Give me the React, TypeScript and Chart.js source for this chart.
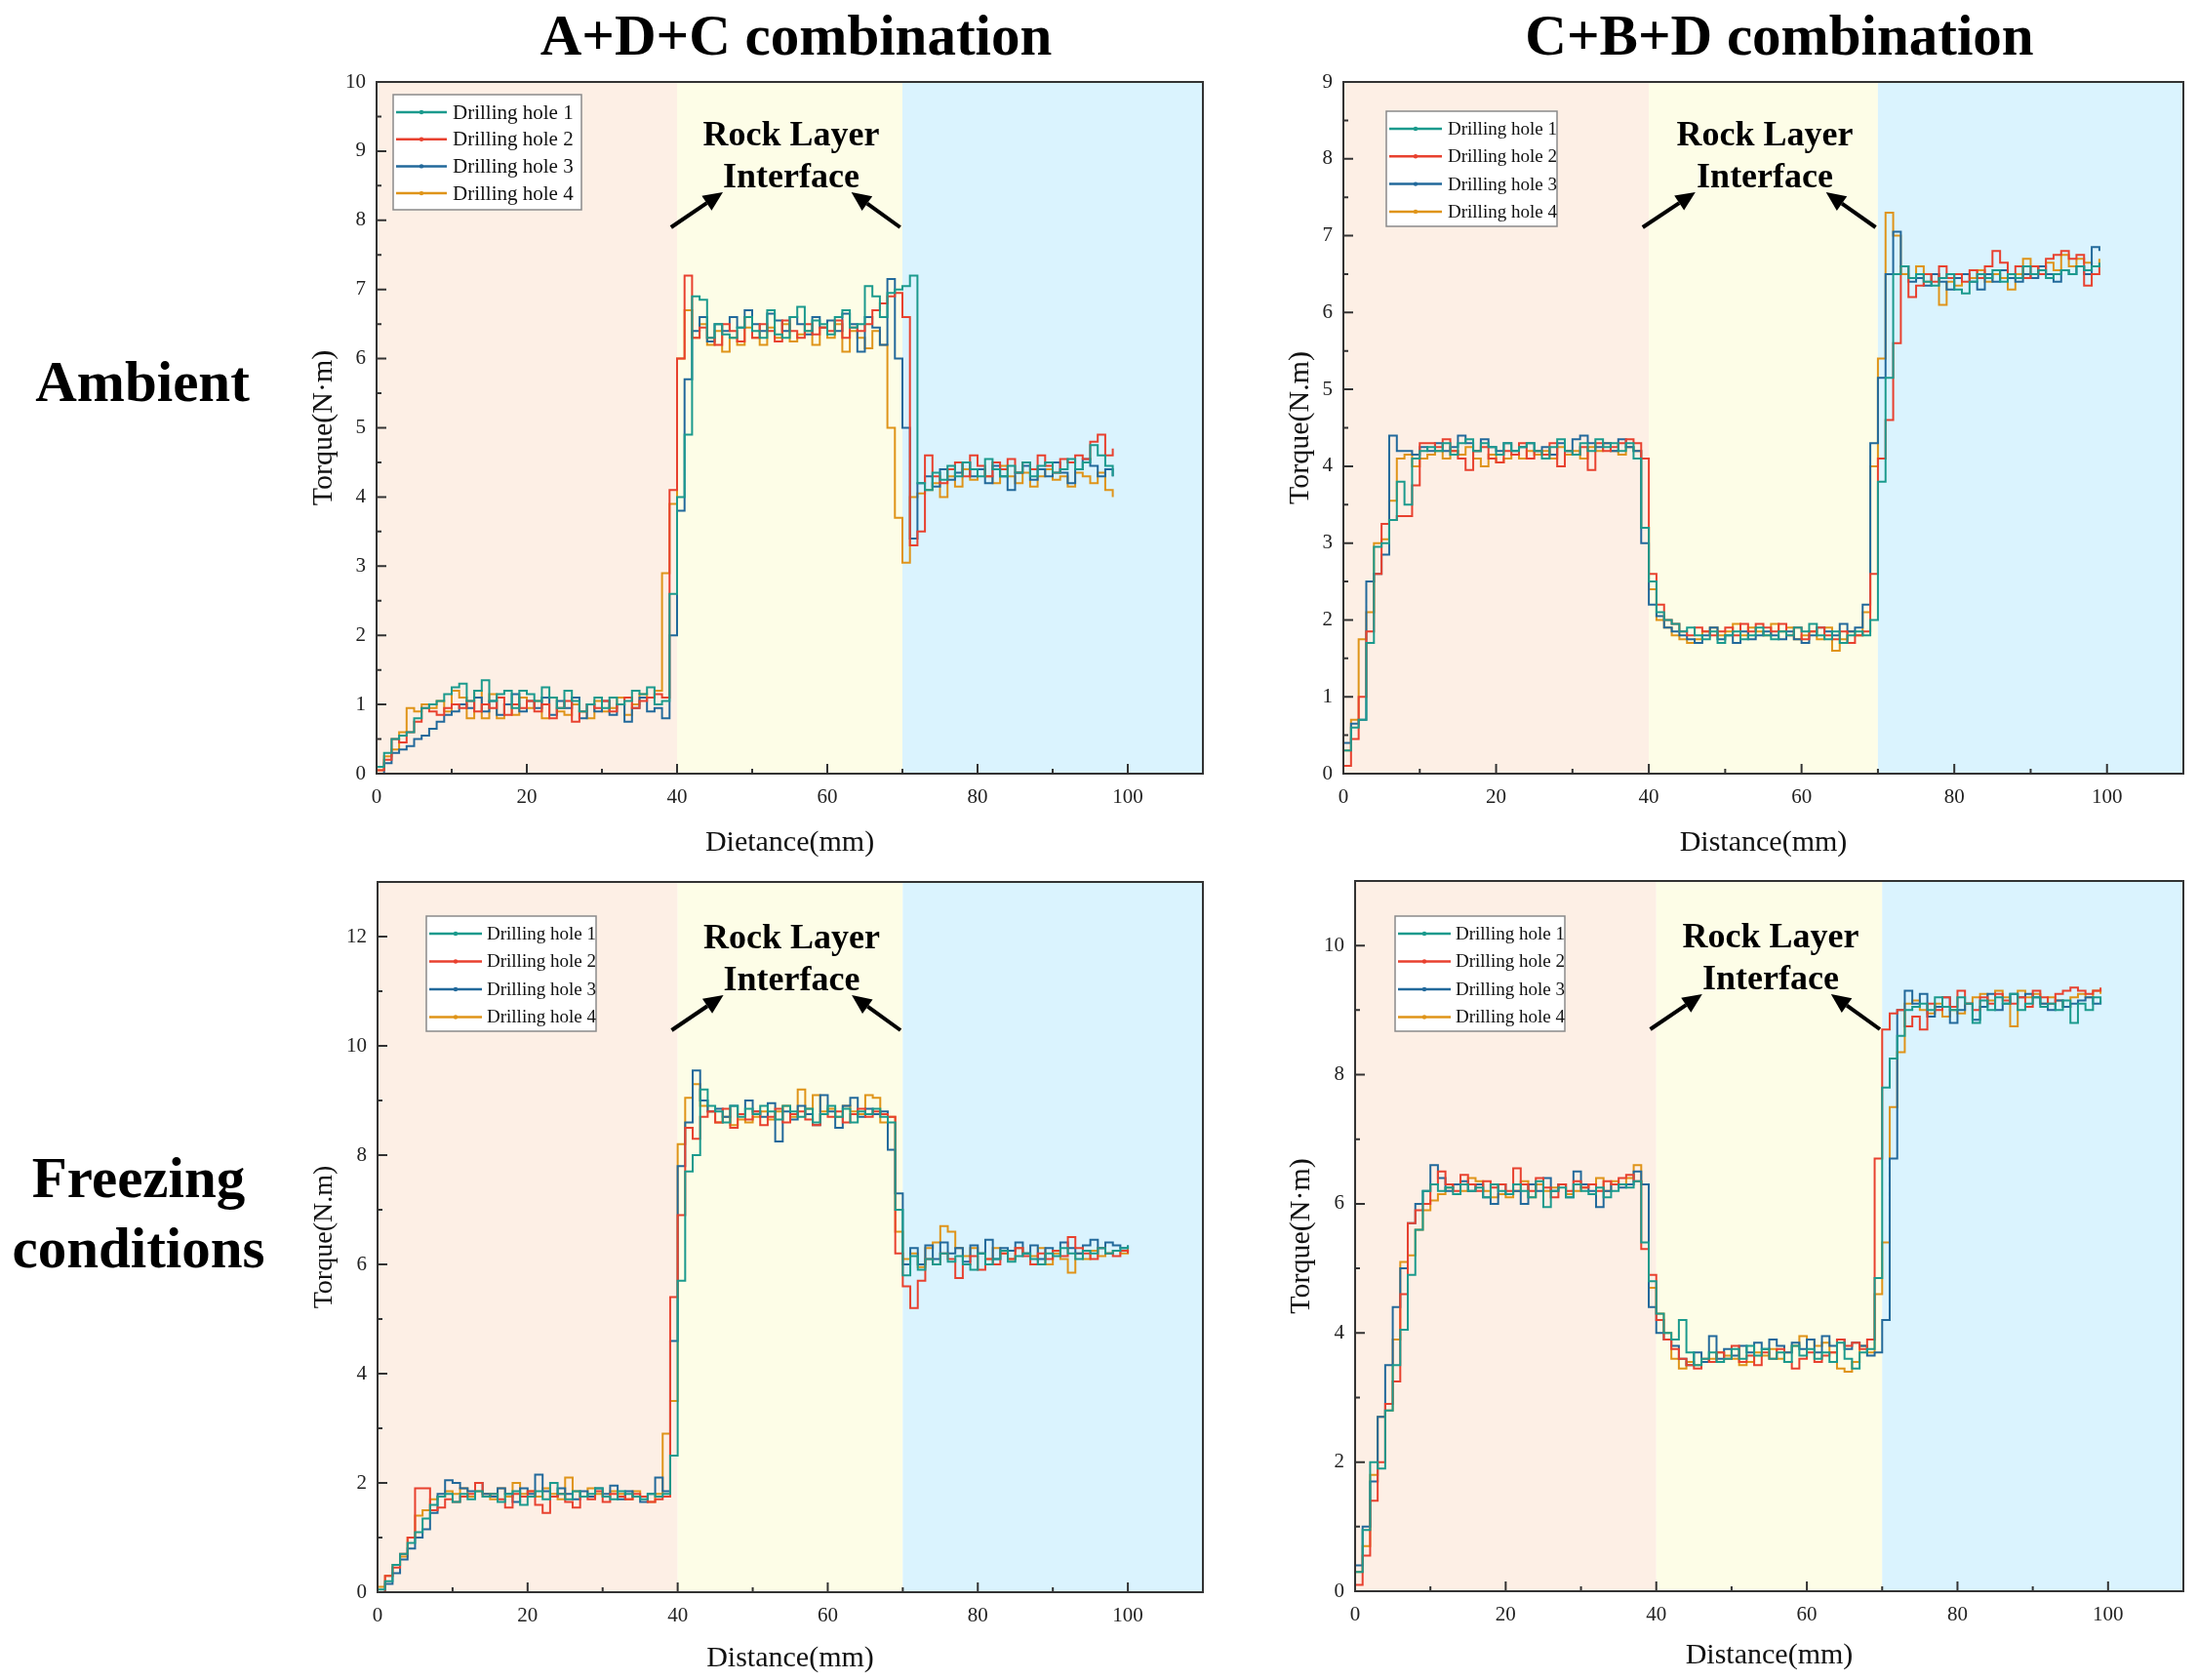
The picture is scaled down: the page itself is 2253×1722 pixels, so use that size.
import { useEffect, useRef } from "react";
import { Chart, registerables } from "chart.js";

Chart.register(...registerables);
Chart.defaults.font.family = '"Liberation Serif", "Times New Roman", serif';

// sampling positions along the hole (mm)
const DISTANCE = [
  0, 1, 2, 3, 4, 5, 6, 7, 8, 9, 10, 11, 12, 13, 14, 15, 16, 17, 18, 19,
  20, 21, 22, 23, 24, 25, 26, 27, 28, 29, 30, 31, 32, 33, 34, 35, 36, 37, 38, 39,
  40, 41, 42, 43, 44, 45, 46, 47, 48, 49, 50, 51, 52, 53, 54, 55, 56, 57, 58, 59,
  60, 61, 62, 63, 64, 65, 66, 67, 68, 69, 70, 71, 72, 73, 74, 75, 76, 77, 78, 79,
  80, 81, 82, 83, 84, 85, 86, 87, 88, 89, 90, 91, 92, 93, 94, 95, 96, 97, 98, 99, 100,
];

const HOLE_NAMES = ["Drilling hole 1", "Drilling hole 2", "Drilling hole 3", "Drilling hole 4"];
const HOLE_COLORS = ["#1b9a8d", "#e8412f", "#22699b", "#df9419"];

// rock layer boundaries (mm) and their fills
const LAYER_EDGES = [0, 40, 70, 110];
const LAYER_COLORS = ["#fdefe5", "#fdfde7", "#daf3fe"];

// A+D+C, ambient
const ADC_AMB_1 = [
  0.1, 0.3, 0.5, 0.55, 0.6, 0.8, 0.95, 1.0, 1.05, 1.15,
  1.25, 1.3, 1.05, 1.2, 1.35, 1.05, 1.15, 1.2, 0.95, 1.2,
  1.15, 1.05, 1.25, 1.1, 0.95, 1.2, 1.05, 0.9, 1.0, 1.1,
  0.95, 1.1, 1.0, 1.05, 1.2, 1.15, 1.25, 1.0, 1.05, 2.6,
  4.0, 4.9, 6.9, 6.85, 6.3, 6.5, 6.35, 6.3, 6.45, 6.6,
  6.4, 6.3, 6.7, 6.35, 6.3, 6.6, 6.75, 6.4, 6.55, 6.5,
  6.35, 6.6, 6.7, 6.45, 6.5, 7.05, 6.9, 6.6, 6.95, 7.0,
  7.05, 7.2, 4.2, 4.1, 4.35, 4.25, 4.45, 4.3, 4.5, 4.4,
  4.3, 4.55, 4.4, 4.3, 4.45, 4.35, 4.5, 4.3, 4.45, 4.5,
  4.35, 4.4, 4.55, 4.4, 4.5, 4.75, 4.6, 4.45, 4.3,
];
const ADC_AMB_2 = [
  0.05, 0.2, 0.5, 0.45, 0.6, 0.75, 0.95, 0.9, 0.85, 0.95,
  1.0, 0.95, 1.05, 0.9, 1.0, 0.95, 1.1, 0.85, 1.0, 0.95,
  1.05, 0.9, 1.0, 0.8, 0.95, 1.05, 0.75, 0.9, 1.0, 0.95,
  1.05, 0.9, 1.0, 1.1, 0.95, 1.05, 1.1, 1.15, 1.1, 4.1,
  6.0, 7.2, 6.3, 6.45, 6.3, 6.2, 6.5, 6.4, 6.25, 6.6,
  6.3, 6.5, 6.4, 6.25, 6.55, 6.4, 6.3, 6.5, 6.35, 6.45,
  6.4, 6.55, 6.3, 6.45, 6.4, 6.5, 6.7, 6.8, 6.9, 6.95,
  6.6, 3.3, 3.5, 4.6, 4.3, 4.2, 4.4, 4.5, 4.3, 4.6,
  4.45, 4.3, 4.5, 4.4, 4.55, 4.35, 4.5, 4.4, 4.6, 4.45,
  4.35, 4.55, 4.5, 4.6, 4.55, 4.8, 4.9, 4.6, 4.7,
];
const ADC_AMB_3 = [
  0, 0.15, 0.3, 0.35, 0.4, 0.5, 0.55, 0.65, 0.75, 0.85,
  0.9, 1.0, 0.95, 1.1, 0.9, 1.05, 0.85, 1.0, 1.15, 0.9,
  1.05, 0.95, 1.1, 0.85, 1.05, 0.95, 1.1, 0.8, 1.0, 0.9,
  1.05, 0.85, 1.0, 0.75, 0.95, 1.1, 0.9, 0.95, 0.8, 2.0,
  3.8, 5.7, 6.4, 6.6, 6.25, 6.5, 6.4, 6.6, 6.45, 6.7,
  6.5, 6.4, 6.65, 6.55, 6.4, 6.6, 6.5, 6.35, 6.6, 6.45,
  6.55, 6.4, 6.65, 6.5, 6.1, 6.6, 6.45, 6.2, 7.15, 6.0,
  5.0, 3.4, 4.2, 4.3, 4.15, 4.4, 4.25, 4.35, 4.5, 4.3,
  4.4, 4.2, 4.45, 4.3, 4.1, 4.35, 4.45, 4.25, 4.4, 4.3,
  4.5, 4.35, 4.2, 4.4, 4.55, 4.45, 4.3, 4.4, 4.3,
];
const ADC_AMB_4 = [
  0.05, 0.25, 0.35, 0.6, 0.95, 0.9, 1.0, 0.95, 1.05, 0.9,
  1.2, 1.1, 0.8, 1.2, 0.8, 1.15, 0.8, 1.0, 0.85, 1.1,
  0.95, 1.05, 0.8, 1.1, 0.9, 0.85, 1.0, 0.9, 0.8, 1.05,
  0.9, 0.95, 1.1, 0.85, 1.0, 1.15, 1.1, 1.2, 2.9, 3.9,
  6.0, 6.7, 6.3, 6.5, 6.2, 6.4, 6.1, 6.3, 6.2, 6.45,
  6.3, 6.2, 6.45, 6.3, 6.5, 6.25, 6.35, 6.4, 6.2, 6.45,
  6.3, 6.5, 6.1, 6.4, 6.3, 6.15, 6.4, 6.2, 5.0, 3.7,
  3.05, 4.0, 4.05, 4.1, 4.2, 4.0, 4.3, 4.15, 4.4, 4.25,
  4.4, 4.3, 4.2, 4.45, 4.3, 4.2, 4.35, 4.15, 4.3, 4.4,
  4.25, 4.3, 4.15, 4.35, 4.3, 4.2, 4.35, 4.1, 4.0,
];

// C+B+D, ambient
const CBD_AMB_1 = [
  0.3, 0.6, 0.7, 1.7, 2.95, 3.0, 3.3, 3.8, 3.5, 4.1,
  4.2, 4.25, 4.2, 4.3, 4.15, 4.3, 4.35, 4.2, 4.3, 4.25,
  4.15, 4.3, 4.2, 4.25, 4.3, 4.2, 4.1, 4.25, 4.35, 4.2,
  4.15, 4.3, 4.2, 4.35, 4.25, 4.3, 4.2, 4.3, 4.1, 3.2,
  2.5, 2.1, 2.0, 1.95, 1.85, 1.9, 1.8, 1.75, 1.85, 1.7,
  1.8, 1.85, 1.75, 1.8, 1.9, 1.8, 1.75, 1.85, 1.8, 1.9,
  1.85, 1.95, 1.8, 1.75, 1.85, 1.7, 1.8, 1.85, 1.8, 2.0,
  3.8, 5.15, 6.5, 6.6, 6.45, 6.5, 6.4, 6.35, 6.45, 6.5,
  6.3, 6.25, 6.4, 6.5, 6.45, 6.55, 6.4, 6.5, 6.45, 6.6,
  6.5, 6.55, 6.45, 6.5, 6.55, 6.5, 6.6, 6.55, 6.6, 6.65,
];
const CBD_AMB_2 = [
  0.1, 0.45, 1.0, 1.85, 2.6, 3.25, 3.3, 3.35, 3.35, 3.75,
  4.3, 4.3, 4.25, 4.35, 4.2, 4.1, 3.95, 4.2, 4.25, 4.1,
  4.05, 4.2, 4.15, 4.3, 4.1, 4.2, 4.15, 4.3, 4.0, 4.2,
  4.15, 4.25, 3.95, 4.3, 4.2, 4.25, 4.3, 4.35, 4.3, 4.1,
  2.6, 2.2, 2.0, 1.95, 1.85, 1.8, 1.9, 1.85, 1.8, 1.85,
  1.9, 1.8, 1.95, 1.85, 1.95, 1.9, 1.85, 1.95, 1.8, 1.9,
  1.75, 1.85, 1.9, 1.8, 1.75, 1.85, 1.7, 1.8, 1.85, 2.6,
  4.1, 4.6, 5.6, 6.6, 6.2, 6.35, 6.5, 6.4, 6.6, 6.45,
  6.5, 6.4, 6.55, 6.45, 6.6, 6.8, 6.65, 6.5, 6.6, 6.45,
  6.6, 6.5, 6.7, 6.75, 6.8, 6.7, 6.75, 6.35, 6.5, 6.6,
];
const CBD_AMB_3 = [
  0.4, 0.65, 0.7, 2.5, 2.6, 2.85, 4.4, 4.2, 4.2, 4.15,
  4.25, 4.2, 4.3, 4.2, 4.25, 4.4, 4.3, 4.2, 4.35, 4.25,
  4.2, 4.3, 4.2, 4.25, 4.3, 4.2, 4.25, 4.15, 4.3, 4.2,
  4.35, 4.4, 4.3, 4.25, 4.3, 4.2, 4.35, 4.25, 4.2, 3.0,
  2.2, 2.05, 1.9, 1.85, 1.8, 1.75, 1.7, 1.8, 1.9, 1.75,
  1.8, 1.7, 1.85, 1.75, 1.8, 1.85, 1.8, 1.75, 1.85, 1.75,
  1.7, 1.8, 1.9, 1.85, 1.8, 1.95, 1.85, 1.9, 2.2, 4.3,
  5.15, 6.5, 7.05, 6.6, 6.4, 6.45, 6.35, 6.5, 6.4, 6.3,
  6.45, 6.5, 6.4, 6.3, 6.5, 6.4, 6.55, 6.45, 6.4, 6.5,
  6.45, 6.6, 6.5, 6.4, 6.55, 6.5, 6.6, 6.5, 6.85, 6.8,
];
const CBD_AMB_4 = [
  0.3, 0.7, 1.75, 2.1, 3.0, 3.05, 3.55, 4.1, 4.15, 4.0,
  4.1, 4.15, 4.2, 4.1, 4.2, 4.15, 4.25, 4.1, 4.0, 4.15,
  4.05, 4.1, 4.15, 4.1, 4.2, 4.15, 4.2, 4.1, 4.25, 4.15,
  4.2, 4.1, 4.25, 4.2, 4.3, 4.2, 4.15, 4.25, 4.2, 3.2,
  2.4, 2.0, 1.9, 1.8, 1.75, 1.7, 1.75, 1.85, 1.9, 1.8,
  1.85, 1.95, 1.8, 1.9, 1.85, 1.8, 1.95, 1.85, 1.9, 1.75,
  1.8, 1.85, 1.75, 1.9, 1.6, 1.75, 1.85, 1.8, 2.1, 4.0,
  5.4, 7.3, 7.0, 6.5, 6.45, 6.6, 6.4, 6.5, 6.1, 6.4,
  6.35, 6.5, 6.45, 6.55, 6.4, 6.5, 6.45, 6.3, 6.5, 6.7,
  6.6, 6.5, 6.65, 6.55, 6.75, 6.6, 6.7, 6.65, 6.6, 6.7,
];

// A+D+C, freezing
const ADC_FRZ_1 = [
  0.05, 0.2, 0.5, 0.7, 0.9, 1.1, 1.35, 1.6, 1.75, 1.8,
  1.65, 1.8, 1.7, 1.85, 1.75, 1.8, 1.65, 1.8, 1.85, 1.6,
  1.75, 1.85, 1.7, 2.0, 1.8, 1.7, 1.85, 1.75, 1.8, 1.9,
  1.75, 1.7, 1.85, 1.8, 1.75, 1.7, 1.8, 1.75, 1.8, 2.5,
  5.7, 7.7, 8.0, 9.2, 8.9, 8.8, 8.6, 8.9, 8.7, 8.85,
  8.75, 8.9, 8.8, 8.65, 8.9, 8.8, 8.7, 8.85, 8.6, 8.75,
  8.9, 8.7, 8.85, 8.6, 8.8, 8.75, 8.85, 8.7, 8.6, 7.0,
  5.8, 6.15, 5.9, 6.1, 6.0, 6.2, 6.05, 6.15, 6.0, 5.9,
  6.2, 6.0, 6.1, 6.25, 6.05, 6.15, 6.2, 6.1, 6.0, 6.2,
  6.15, 6.3, 6.2, 6.1, 6.25, 6.2, 6.3, 6.2, 6.25, 6.3, 6.35,
];
const ADC_FRZ_2 = [
  0, 0.3, 0.45, 0.7, 1.0, 1.9, 1.9, 1.5, 1.55, 1.7,
  1.65, 1.75, 1.8, 2.0, 1.75, 1.8, 1.7, 1.55, 1.8, 1.75,
  1.85, 1.6, 1.45, 1.75, 1.8, 1.65, 1.55, 1.75, 1.7, 1.85,
  1.65, 1.8, 1.75, 1.7, 1.8, 1.75, 1.65, 1.7, 1.75, 5.4,
  6.9, 8.5, 8.3, 8.7, 8.8, 8.6, 8.85, 8.5, 8.75, 8.65,
  8.8, 8.55, 8.7, 8.85, 8.6, 8.75, 8.8, 8.65, 8.55, 8.75,
  8.7, 8.8, 8.6, 8.75, 8.85, 8.7, 8.8, 8.75, 8.7, 6.2,
  5.6, 5.2, 5.7, 6.1, 6.0, 6.2, 6.1, 5.75, 6.0, 6.15,
  5.9, 6.1, 6.0, 6.2, 6.1, 6.3, 6.15, 6.0, 6.2, 6.1,
  6.25, 6.15, 6.5, 6.3, 6.2, 6.1, 6.3, 6.2, 6.15, 6.25, 6.2,
];
const ADC_FRZ_3 = [
  0, 0.15, 0.35, 0.6, 0.8, 1.0, 1.15, 1.45, 1.8, 2.05,
  2.0, 1.9, 1.85, 2.0, 1.8, 1.75, 1.9, 1.8, 1.65, 1.9,
  1.8, 2.15, 1.85, 1.75, 1.9, 1.8, 1.7, 1.85, 1.75, 1.9,
  1.8, 1.95, 1.7, 1.85, 1.75, 1.65, 1.8, 2.1, 1.85, 4.6,
  7.8, 8.6, 9.55, 9.0, 8.8, 8.85, 8.7, 8.9, 8.75, 9.0,
  8.8, 8.7, 8.95, 8.25, 8.8, 8.65, 8.9, 8.75, 8.55, 9.1,
  8.8, 8.5, 8.9, 9.05, 8.7, 8.85, 8.75, 8.8, 8.1, 7.3,
  6.0, 6.3, 6.0, 6.35, 6.1, 6.4, 6.2, 6.3, 6.05, 6.35,
  6.2, 6.45, 6.1, 6.3, 6.25, 6.4, 6.2, 6.35, 6.1, 6.3,
  6.25, 6.4, 6.3, 6.2, 6.35, 6.45, 6.3, 6.4, 6.35, 6.3, 6.35,
];
const ADC_FRZ_4 = [
  0.1, 0.3, 0.5, 0.65, 1.0, 1.4, 1.5, 1.7, 1.75, 1.85,
  1.8, 1.9, 1.75, 1.85, 1.8, 1.7, 1.9, 1.75, 2.0, 1.8,
  1.85, 1.75, 1.9, 1.8, 1.7, 2.1, 1.85, 1.75, 1.9, 1.8,
  1.75, 1.85, 1.8, 1.7, 1.85, 1.75, 1.65, 1.8, 2.9, 3.5,
  8.2, 9.05, 9.3, 8.9, 8.8, 8.6, 8.7, 8.55, 8.65, 8.6,
  8.7, 8.8, 8.65, 8.8, 8.9, 8.7, 9.2, 8.85, 9.1, 8.8,
  8.85, 8.7, 8.9, 8.8, 8.75, 9.1, 9.05, 8.6, 8.7, 6.6,
  6.1, 6.2, 5.95, 6.3, 6.4, 6.7, 6.6, 6.3, 6.15, 6.3,
  6.2, 6.1, 6.3, 6.2, 6.1, 6.3, 6.2, 6.15, 6.3, 6.0,
  6.2, 6.1, 5.85, 6.2, 6.1, 6.25, 6.15, 6.2, 6.25, 6.2, 6.3,
];

// C+B+D, freezing
const CBD_FRZ_1 = [
  0.3, 0.95, 2.0, 1.9, 2.8, 3.5, 4.05, 4.9, 5.6, 6.2,
  6.3, 6.2, 6.25, 6.15, 6.3, 6.2, 6.25, 6.1, 6.3, 6.2,
  6.15, 6.3, 6.2, 6.1, 6.35, 5.95, 6.2, 6.25, 6.1, 6.3,
  6.2, 6.15, 6.25, 6.1, 6.2, 6.3, 6.25, 6.35, 5.4, 4.8,
  4.3, 4.0, 3.9, 4.2, 3.7, 3.5, 3.6, 3.7, 3.55, 3.6,
  3.75, 3.6, 3.8, 3.65, 3.75, 3.6, 3.7, 3.55, 3.8, 3.65,
  3.75, 3.6, 3.7, 3.55, 3.85, 3.6, 3.45, 3.7, 3.75, 4.85,
  7.8, 8.25, 8.6, 9.0, 9.05, 9.1, 9.0, 9.2, 9.05, 9.0,
  9.2, 9.1, 8.8, 9.15, 9.0, 9.2, 9.1, 9.25, 9.0, 9.1,
  9.2, 9.05, 9.1, 9.0, 9.15, 8.8, 9.1, 9.0, 9.2, 9.1,
];
const CBD_FRZ_2 = [
  0.1, 0.55, 1.4, 2.0, 2.9, 3.25, 4.6, 5.7, 5.9, 6.0,
  6.3, 6.5, 6.3, 6.2, 6.45, 6.3, 6.2, 6.35, 6.25, 6.3,
  6.2, 6.55, 6.3, 6.2, 6.4, 6.25, 6.1, 6.3, 6.2, 6.35,
  6.25, 6.3, 6.2, 6.35, 6.3, 6.4, 6.45, 6.35, 5.3, 4.9,
  4.2, 3.9, 3.75, 3.6, 3.5, 3.45, 3.6, 3.55, 3.7, 3.6,
  3.8, 3.55, 3.65, 3.5, 3.7, 3.6, 3.75, 3.55, 3.45, 3.6,
  3.7, 3.55, 3.65, 3.7, 3.9, 3.8, 3.85, 3.75, 3.9, 6.7,
  8.7, 8.95, 9.0, 8.75, 8.9, 8.7, 9.1, 9.0, 9.2, 9.05,
  9.3, 9.1, 9.0, 9.2, 9.1, 9.25, 9.15, 9.1, 9.2, 9.05,
  9.3, 9.2, 9.1, 9.25, 9.3, 9.35, 9.3, 9.25, 9.3, 9.35,
];
const CBD_FRZ_3 = [
  0.4, 1.0, 1.7, 2.7, 3.5, 4.4, 5.0, 5.7, 6.0, 6.2,
  6.6, 6.4, 6.2, 6.3, 6.35, 6.2, 6.3, 6.1, 6.0, 6.3,
  6.15, 6.2, 6.0, 6.3, 6.2, 6.4, 6.2, 6.3, 6.1, 6.5,
  6.3, 6.2, 5.95, 6.2, 6.3, 6.25, 6.3, 6.5, 6.3, 4.4,
  4.0, 3.9, 3.8, 3.6, 3.5, 3.7, 3.55, 3.95, 3.6, 3.75,
  3.65, 3.8, 3.7, 3.85, 3.75, 3.9, 3.8, 3.7, 3.85, 3.75,
  3.9, 3.7, 3.95, 3.8, 3.9, 3.75, 3.85, 3.8, 3.65, 3.7,
  4.2, 6.7, 9.0, 9.3, 9.1, 9.25, 8.9, 9.05, 9.2, 8.8,
  9.0, 9.1, 8.85, 9.05, 9.25, 9.0, 9.1, 9.25, 9.2, 9.25,
  9.2, 9.1, 9.0, 9.15, 9.05, 9.1, 9.15, 9.2, 9.1, 9.15,
];
const CBD_FRZ_4 = [
  0.3, 0.7, 1.8, 2.7, 2.8, 3.9, 5.1, 5.2, 5.6, 5.9,
  6.05, 6.15, 6.25, 6.3, 6.2, 6.4, 6.35, 6.2, 6.1, 6.15,
  6.1, 6.2, 6.35, 6.1, 6.3, 6.2, 6.25, 6.3, 6.15, 6.2,
  6.25, 6.3, 6.4, 6.2, 6.35, 6.3, 6.4, 6.6, 6.3, 4.7,
  4.3, 4.0, 3.6, 3.45, 3.55, 3.5, 3.55, 3.6, 3.7, 3.65,
  3.6, 3.5, 3.55, 3.7, 3.65, 3.75, 3.6, 3.7, 3.8, 3.95,
  3.9, 3.8, 3.85, 3.7, 3.45, 3.4, 3.55, 3.8, 3.7, 4.6,
  5.4, 7.5, 8.35, 9.1, 9.15, 9.0, 8.95, 9.1, 8.9, 9.0,
  8.95, 9.1, 9.2, 9.25, 9.15, 9.3, 9.2, 8.75, 9.3, 9.2,
  9.25, 9.1, 9.2, 9.15, 9.05, 9.2, 9.25, 9.2, 9.3, 9.25,
];

type Legend = { dx: number; dy: number; w: number; h: number; font: number; row: number; first: number; line: number; gap: number };
type PanelCfg = {
  series: number[][];
  yMax: number;
  yStep: number;
  yTitle: string;
  xTitle: string;
  area: { left: number; top: number; right: number; bottom: number };
  yTitleGap: number;
  yTitleSize: number;
  xTitleGap: number;
  legend: Legend;
  noteTop: number;
};

const PANELS: PanelCfg[] = [
  {
    series: [ADC_AMB_1, ADC_AMB_2, ADC_AMB_3, ADC_AMB_4],
    yMax: 10, yStep: 1, yTitle: "Torque(N·m)", xTitle: "Dietance(mm)",
    area: { left: 386, top: 84, right: 1233, bottom: 793 },
    yTitleGap: 54, yTitleSize: 30, xTitleGap: 71,
    legend: { dx: 17, dy: 13, w: 193, h: 118, font: 21, row: 27.7, first: 18, line: 52, gap: 6 },
    noteTop: 0,
  },
  {
    series: [CBD_AMB_1, CBD_AMB_2, CBD_AMB_3, CBD_AMB_4],
    yMax: 9, yStep: 1, yTitle: "Torque(N.m)", xTitle: "Distance(mm)",
    area: { left: 1377, top: 84, right: 2238, bottom: 793 },
    yTitleGap: 44, yTitleSize: 30, xTitleGap: 71,
    legend: { dx: 44, dy: 30, w: 175, h: 118, font: 19, row: 28.3, first: 18, line: 54, gap: 6 },
    noteTop: 0,
  },
  {
    series: [ADC_FRZ_1, ADC_FRZ_2, ADC_FRZ_3, ADC_FRZ_4],
    yMax: 13, yStep: 2, yTitle: "Torque(N.m)", xTitle: "Distance(mm)",
    area: { left: 387, top: 904, right: 1233, bottom: 1632 },
    yTitleGap: 54, yTitleSize: 28, xTitleGap: 68,
    legend: { dx: 50, dy: 35, w: 174, h: 118, font: 19, row: 28.5, first: 18, line: 54, gap: 5 },
    noteTop: 3,
  },
  {
    series: [CBD_FRZ_1, CBD_FRZ_2, CBD_FRZ_3, CBD_FRZ_4],
    yMax: 11, yStep: 2, yTitle: "Torque(N·m)", xTitle: "Distance(mm)",
    area: { left: 1389, top: 903, right: 2238, bottom: 1631 },
    yTitleGap: 55, yTitleSize: 30, xTitleGap: 66,
    legend: { dx: 41, dy: 36, w: 174, h: 118, font: 19, row: 28.5, first: 18, line: 54, gap: 5 },
    noteTop: 3,
  },
];

const Y_AXIS_W = 100;
const X_AXIS_H = 100;
// top padding above the plot; larger than half a tick label so chart.js keeps it as is
const PAD_TOP = 26;
const PAD_RIGHT = 20;

function drawArrow(ctx: CanvasRenderingContext2D, x0: number, y0: number, x1: number, y1: number) {
  const ang = Math.atan2(y1 - y0, x1 - x0);
  const head = 20;
  const half = 9;
  const bx = x1 - head * Math.cos(ang);
  const by = y1 - head * Math.sin(ang);
  ctx.beginPath();
  ctx.moveTo(x0, y0);
  ctx.lineTo(bx, by);
  ctx.lineWidth = 4;
  ctx.strokeStyle = "#000";
  ctx.stroke();
  ctx.beginPath();
  ctx.moveTo(x1, y1);
  ctx.lineTo(bx + half * Math.sin(ang), by - half * Math.cos(ang));
  ctx.lineTo(bx - half * Math.sin(ang), by + half * Math.cos(ang));
  ctx.closePath();
  ctx.fillStyle = "#000";
  ctx.fill();
}

function Panel({ cfg }: { cfg: PanelCfg }) {
  const canvasRef = useRef<HTMLCanvasElement>(null);
  const { area } = cfg;
  const width = area.right - area.left + Y_AXIS_W + PAD_RIGHT;
  const height = area.bottom - area.top + X_AXIS_H + PAD_TOP;

  useEffect(() => {
    if (!canvasRef.current) return;

    const decor = {
      id: "decor",
      beforeDatasetsDraw(chart: Chart) {
        const { ctx, chartArea: a } = chart;
        const x = chart.scales.x;
        ctx.save();
        LAYER_COLORS.forEach((color, i) => {
          const x0 = x.getPixelForValue(LAYER_EDGES[i]);
          const x1 = x.getPixelForValue(LAYER_EDGES[i + 1]);
          ctx.fillStyle = color;
          ctx.fillRect(x0, a.top, x1 - x0, a.bottom - a.top);
        });
        ctx.restore();
      },
      afterDatasetsDraw(chart: Chart) {
        const { ctx, chartArea: a } = chart;
        const x = chart.scales.x;
        const y = chart.scales.y;
        ctx.save();

        // inward major + minor ticks
        ctx.strokeStyle = "#333";
        ctx.lineWidth = 2;
        ctx.beginPath();
        const xt = x.ticks.map((t) => t.value);
        const xs = xt[1] - xt[0];
        xt.forEach((v) => {
          const p = x.getPixelForValue(v);
          ctx.moveTo(p, a.bottom);
          ctx.lineTo(p, a.bottom - 10);
          if (v + xs / 2 < x.max) {
            const q = x.getPixelForValue(v + xs / 2);
            ctx.moveTo(q, a.bottom);
            ctx.lineTo(q, a.bottom - 5);
          }
        });
        const yt = y.ticks.map((t) => t.value);
        const ys = yt[1] - yt[0];
        yt.forEach((v) => {
          const p = y.getPixelForValue(v);
          ctx.moveTo(a.left, p);
          ctx.lineTo(a.left + 10, p);
          if (v + ys / 2 < y.max) {
            const q = y.getPixelForValue(v + ys / 2);
            ctx.moveTo(a.left, q);
            ctx.lineTo(a.left + 5, q);
          }
        });
        ctx.stroke();

        // frame
        ctx.lineWidth = 2;
        ctx.strokeRect(a.left, a.top, a.right - a.left, a.bottom - a.top);

        // rock layer interface note
        const t = a.top + cfg.noteTop;
        ctx.fillStyle = "#000";
        ctx.font = 'bold 36px "Liberation Serif", serif';
        ctx.textAlign = "center";
        ctx.textBaseline = "alphabetic";
        const cx = x.getPixelForValue(55.2);
        ctx.fillText("Rock Layer", cx, t + 65);
        ctx.fillText("Interface", cx, t + 108);
        drawArrow(ctx, x.getPixelForValue(39.2), t + 149, x.getPixelForValue(46.1), t + 113);
        drawArrow(ctx, x.getPixelForValue(69.7), t + 149, x.getPixelForValue(63.2), t + 113);

        // legend
        const lg = cfg.legend;
        const bx = a.left + lg.dx;
        const by = a.top + lg.dy;
        ctx.fillStyle = "#fff";
        ctx.fillRect(bx, by, lg.w, lg.h);
        ctx.strokeStyle = "#8a8a8a";
        ctx.lineWidth = 1.5;
        ctx.strokeRect(bx, by, lg.w, lg.h);
        ctx.font = `${lg.font}px "Liberation Serif", serif`;
        ctx.textAlign = "left";
        ctx.textBaseline = "middle";
        chart.data.datasets.forEach((ds, i) => {
          const ry = by + lg.first + i * lg.row;
          const color = ds.borderColor as string;
          ctx.strokeStyle = color;
          ctx.lineWidth = 2.5;
          ctx.beginPath();
          ctx.moveTo(bx + 3, ry);
          ctx.lineTo(bx + 3 + lg.line, ry);
          ctx.stroke();
          ctx.fillStyle = color;
          ctx.beginPath();
          ctx.arc(bx + 3 + lg.line / 2, ry, 2.2, 0, Math.PI * 2);
          ctx.fill();
          ctx.fillStyle = "#111";
          ctx.fillText(ds.label as string, bx + 3 + lg.line + lg.gap, ry + 1);
        });
        ctx.restore();
      },
    };

    const chart = new Chart(canvasRef.current, {
      type: "line",
      data: {
        datasets: cfg.series.map((vals, i) => ({
          label: HOLE_NAMES[i],
          data: vals.map((v, j) => ({ x: DISTANCE[j], y: v })),
          borderColor: HOLE_COLORS[i],
          backgroundColor: HOLE_COLORS[i],
          borderWidth: 2,
          pointRadius: 0,
          stepped: true,
          fill: false,
        })),
      },
      options: {
        animation: false,
        responsive: true,
        maintainAspectRatio: false,
        events: [],
        layout: { padding: { left: 0, top: PAD_TOP, right: PAD_RIGHT, bottom: 0 } },
        plugins: { legend: { display: false }, tooltip: { enabled: false } },
        scales: {
          x: {
            type: "linear",
            min: 0,
            max: 110,
            grid: { display: false, drawTicks: false },
            border: { display: false },
            ticks: { stepSize: 20, includeBounds: false, padding: 12, color: "#222", font: { size: 21 } },
            title: {
              display: true,
              text: cfg.xTitle,
              color: "#111",
              font: { size: 30, lineHeight: 1 },
              padding: { top: 0, bottom: X_AXIS_H - cfg.xTitleGap - 15 },
            },
            afterFit: (s) => {
              s.height = X_AXIS_H;
            },
          },
          y: {
            type: "linear",
            min: 0,
            max: cfg.yMax,
            grid: { display: false, drawTicks: false },
            border: { display: false },
            ticks: { stepSize: cfg.yStep, includeBounds: false, padding: 11, color: "#222", font: { size: 21 } },
            title: {
              display: true,
              text: cfg.yTitle,
              color: "#111",
              font: { size: cfg.yTitleSize, lineHeight: 1 },
              padding: { top: Y_AXIS_W - cfg.yTitleGap - cfg.yTitleSize / 2, bottom: 0 },
            },
            afterFit: (s) => {
              s.width = Y_AXIS_W;
            },
          },
        },
      },
      plugins: [decor],
    });
    return () => chart.destroy();
  }, [cfg]);

  return (
    <div
      style={{
        position: "absolute",
        left: area.left - Y_AXIS_W,
        top: area.top - PAD_TOP,
        width,
        height,
      }}
    >
      <canvas ref={canvasRef} />
    </div>
  );
}

function Caption({ text, cx, baseline, size }: { text: string; cx: number; baseline: number; size: number }) {
  return (
    <div
      style={{
        position: "absolute",
        left: cx,
        top: baseline - 0.8375 * size,
        transform: "translateX(-50%)",
        fontFamily: '"Liberation Serif", "Times New Roman", serif',
        fontWeight: "bold",
        fontSize: size,
        lineHeight: 1,
        whiteSpace: "nowrap",
        color: "#000",
      }}
    >
      {text}
    </div>
  );
}

export default function App() {
  return (
    <div style={{ position: "absolute", left: 0, top: 0, width: 2253, height: 1722, background: "#fff", overflow: "hidden" }}>
      <Caption text="A+D+C combination" cx={816} baseline={56} size={59} />
      <Caption text="C+B+D combination" cx={1824} baseline={56} size={59} />
      <Caption text="Ambient" cx={146} baseline={411} size={59} />
      <Caption text="Freezing" cx={142} baseline={1227} size={59} />
      <Caption text="conditions" cx={142} baseline={1299} size={59} />
      {PANELS.map((p, i) => (
        <Panel key={i} cfg={p} />
      ))}
    </div>
  );
}
